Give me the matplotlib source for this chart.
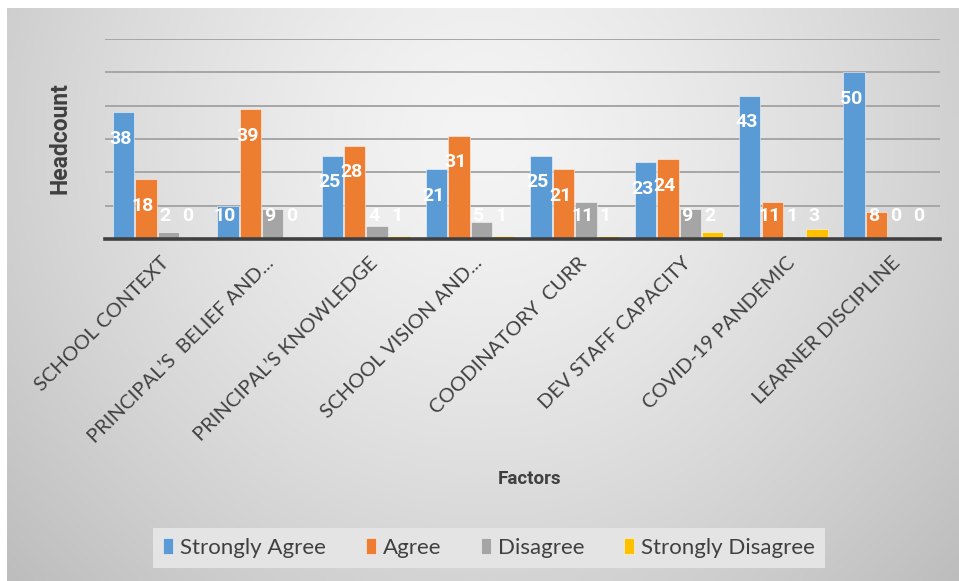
import numpy as np
import matplotlib.pyplot as plt

plt.rcParams['font.family'] = ['Lato', 'DejaVu Sans']

factors = ["SCHOOL CONTEXT", "PRINCIPAL\u2019S  BELIEF AND...", "PRINCIPAL\u2019S KNOWLEDGE",
           "SCHOOL VISION AND...", "COODINATORY  CURR", "DEV STAFF CAPACITY",
           "COVID-19 PANDEMIC", "LEARNER DISCIPLINE"]
strongly_agree = [38, 10, 25, 21, 25, 23, 43, 50]
agree = [18, 39, 28, 31, 21, 24, 11, 8]
disagree = [2, 9, 4, 5, 11, 9, 1, 0]
strongly_disagree = [0, 0, 1, 1, 1, 2, 3, 0]

series = [("Strongly Agree", strongly_agree, "#5B9BD5"),
          ("Agree", agree, "#ED7D31"),
          ("Disagree", disagree, "#A5A5A5"),
          ("Strongly Disagree", strongly_disagree, "#FFC000")]

W, H = 959, 581
fig = plt.figure(figsize=(W / 100, H / 100), dpi=100)
fig.patch.set_facecolor("white")

# radial grey background of the chart area
bg = fig.add_axes([7 / W, 0, 1 - 7 / W, 1 - 8 / H])
yy, xx = np.mgrid[0:200, 0:330]
r = np.sqrt(((xx - 165) / 190.0) ** 2 + ((yy - 45) / 190.0) ** 2)
shade = 0.955 - 0.17 * np.clip(r, 0, 1.2) ** 1.4
bg.imshow(shade, cmap="gray", vmin=0, vmax=1, aspect="auto", interpolation="bicubic")
bg.set_axis_off()

ax = fig.add_axes([105 / W, (H - 239) / H, (940 - 105) / W, 200 / H])
ax.set_facecolor("none")

x = np.arange(len(factors))
width = 0.205
step = 0.215
for i, (name, vals, color) in enumerate(series):
    pos = x + (i - 1.5) * step
    ax.bar(pos, vals, width, color=color, label=name, zorder=3,
           edgecolor=(1, 1, 1, 0.6), linewidth=0.6)
    for px, v in zip(pos, vals):
        ax.text(px - 0.03, max(v - 8, 7), str(v), ha="center", va="center",
                color="white", fontsize=14, fontweight="bold", family="Roboto",
                zorder=5)

ax.set_ylim(0, 60)
ax.set_xlim(-0.5, len(factors) - 0.5)
ax.set_yticks(np.arange(0, 61, 10))
ax.yaxis.grid(True, color="#a6a6a6", linewidth=1.4, zorder=0)
ax.tick_params(axis="y", length=0, labelleft=False)
ax.tick_params(axis="x", length=0, pad=11)
for s in ["top", "right", "left"]:
    ax.spines[s].set_visible(False)
ax.spines["bottom"].set_color("#404040")
ax.spines["bottom"].set_linewidth(2.6)
ax.spines["bottom"].set_zorder(4)

ax.set_xticks(x + 0.03)
ax.set_xticklabels(factors, rotation=45, ha="right", rotation_mode="anchor",
                   fontsize=14.5, color="#404040")

fig.text(60 / W, 1 - 138 / H, "Headcount", rotation=90, ha="center", va="center",
         fontsize=16.5, fontweight="bold", family="Roboto", color="#404040")
fig.text(530 / W, 1 - 479 / H, "Factors", ha="center", va="center",
         fontsize=13.5, fontweight="bold", family="Roboto", color="#404040")

leg = fig.legend(loc="center", bbox_to_anchor=(489 / W, 1 - 548 / H), ncol=4,
                 frameon=True, fontsize=16, handlelength=0.45, handleheight=0.7,
                 handletextpad=0.3, columnspacing=1.8, borderpad=0.45)
leg.get_frame().set_facecolor("#e4e4e4")
leg.get_frame().set_edgecolor("none")
leg.get_frame().set_alpha(1)
leg.get_frame().set_boxstyle("square", pad=0)
for t in leg.get_texts():
    t.set_color("#404040")

fig.savefig("out.png", dpi=100, facecolor=fig.get_facecolor())
